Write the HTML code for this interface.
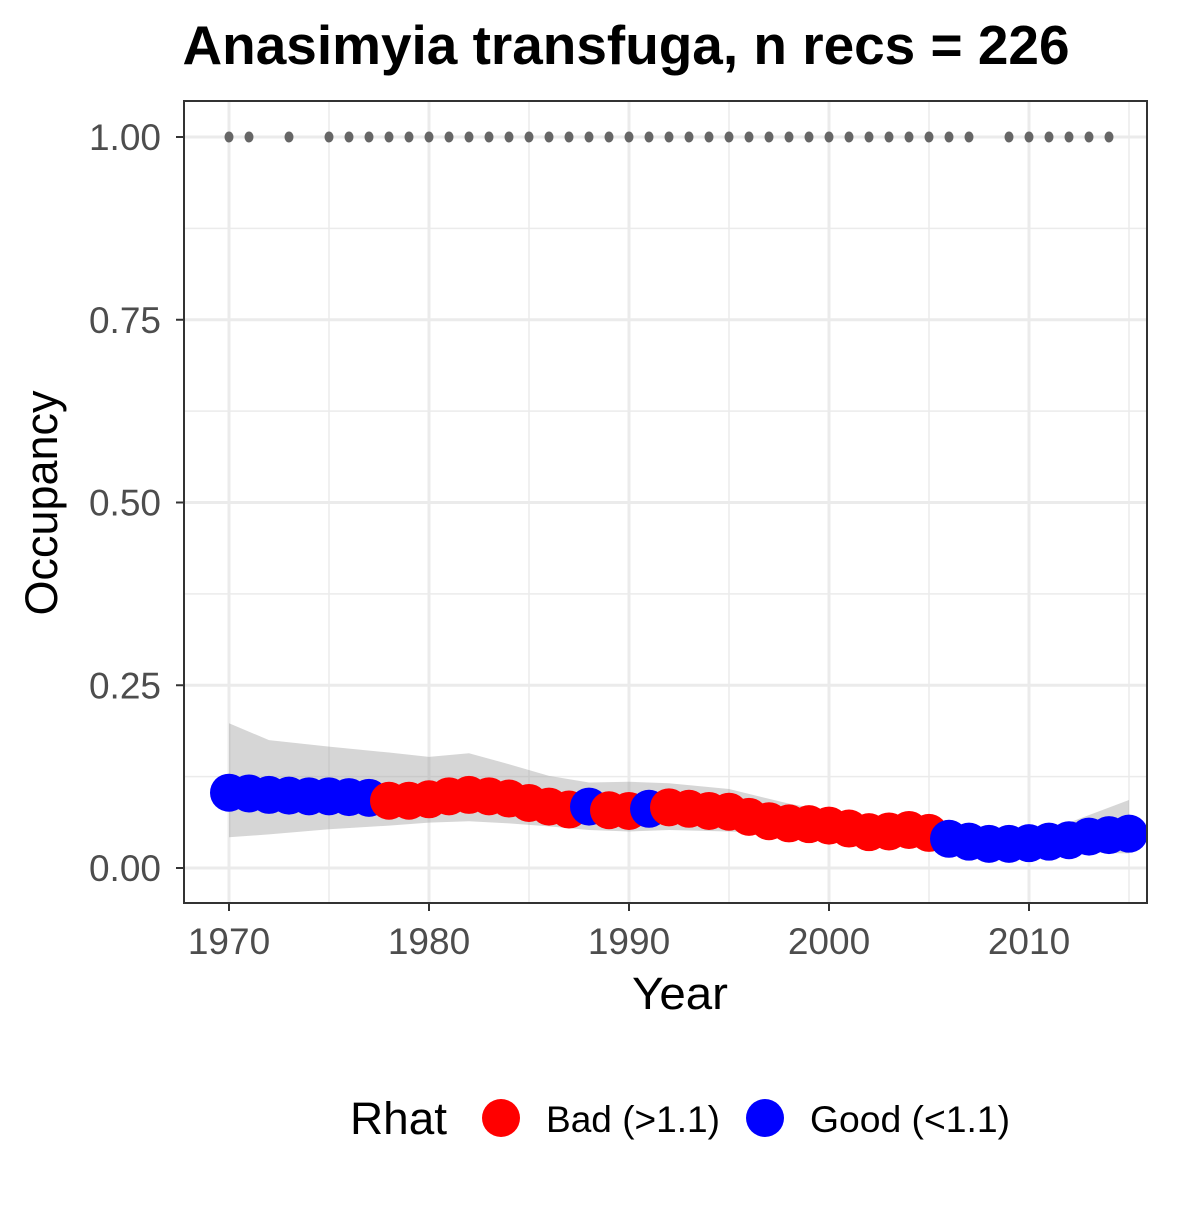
<!DOCTYPE html>
<html><head><meta charset="utf-8"><style>
body{margin:0;background:#fff;}
svg text{font-family:"Liberation Sans",Arial,sans-serif;}
</style></head><body>
<svg id="chart" width="1200" height="1200" xmlns="http://www.w3.org/2000/svg">
<rect width="1200" height="1200" fill="#fff"/>
<text x="626" y="64" text-anchor="middle" font-size="55" font-weight="bold" fill="#000" textLength="887" lengthAdjust="spacingAndGlyphs">Anasimyia transfuga, n recs = 226</text>
<g id="grid"></g>
<g id="ribbon"></g>
<g id="recs"></g>
<g id="pts"></g>
<rect x="184" y="101" width="963" height="802" fill="none" stroke="#333" stroke-width="2"/>
<g id="axes"></g>
<text x="680" y="1009" text-anchor="middle" font-size="45" fill="#000" textLength="96" lengthAdjust="spacingAndGlyphs">Year</text>
<text transform="translate(57,503) rotate(-90)" text-anchor="middle" font-size="45" fill="#000" textLength="225" lengthAdjust="spacingAndGlyphs">Occupancy</text>
<g>
<text x="350" y="1134" font-size="45" fill="#000" textLength="97" lengthAdjust="spacingAndGlyphs">Rhat</text>
<circle cx="501" cy="1118" r="19" fill="#ff0000"/>
<text x="546" y="1132" font-size="37" fill="#000" textLength="174" lengthAdjust="spacingAndGlyphs">Bad (&gt;1.1)</text>
<circle cx="765" cy="1118" r="19" fill="#0000ff"/>
<text x="810" y="1132" font-size="37" fill="#000" textLength="200" lengthAdjust="spacingAndGlyphs">Good (&lt;1.1)</text>
</g>
</svg>
<script>
const years = [1970,1971,1972,1973,1974,1975,1976,1977,1978,1979,1980,1981,1982,1983,1984,1985,1986,1987,1988,1989,1990,1991,1992,1993,1994,1995,1996,1997,1998,1999,2000,2001,2002,2003,2004,2005,2006,2007,2008,2009,2010,2011,2012,2013,2014,2015];
const occupancy = [0.103,0.102,0.100,0.099,0.098,0.098,0.097,0.096,0.092,0.092,0.094,0.098,0.100,0.098,0.095,0.089,0.084,0.080,0.084,0.079,0.078,0.081,0.083,0.081,0.078,0.077,0.070,0.064,0.061,0.060,0.058,0.054,0.049,0.050,0.052,0.048,0.040,0.036,0.033,0.033,0.034,0.036,0.038,0.043,0.045,0.047];
const rhatGood = [1,1,1,1,1,1,1,1,0,0,0,0,0,0,0,0,0,0,1,0,0,1,0,0,0,0,0,0,0,0,0,0,0,0,0,0,1,1,1,1,1,1,1,1,1,1];
const ribbonYears = [1970,1972,1975,1978,1980,1982,1984,1986,1988,1990,1992,1995,1998,2000,2003,2005,2008,2010,2012,2015];
const ribbonUpper = [0.198,0.175,0.166,0.158,0.152,0.157,0.142,0.126,0.117,0.118,0.116,0.108,0.088,0.078,0.068,0.060,0.052,0.052,0.062,0.093];
const ribbonLower = [0.042,0.046,0.053,0.058,0.062,0.064,0.061,0.057,0.052,0.050,0.052,0.050,0.046,0.044,0.038,0.032,0.025,0.022,0.021,0.020];
const recordYears = [1970,1971,1973,1975,1976,1977,1978,1979,1980,1981,1982,1983,1984,1985,1986,1987,1988,1989,1990,1991,1992,1993,1994,1995,1996,1997,1998,1999,2000,2001,2002,2003,2004,2005,2006,2007,2009,2010,2011,2012,2013,2014];
const xTicks = [1970,1980,1990,2000,2010];
const yTicks = [0,0.25,0.5,0.75,1.0];
const yTickLabels = ["0.00","0.25","0.50","0.75","1.00"];

const NS="http://www.w3.org/2000/svg";
const X = y => 229 + (y-1970)*20;
const Y = v => 868 - v*731;
function mk(tag, attrs, parent){const e=document.createElementNS(NS,tag);for(const k in attrs)e.setAttribute(k,attrs[k]);document.getElementById(parent).appendChild(e);return e;}

[1975,1985,1995,2005,2015].forEach(t=>{const l=mk('line',{x1:X(t),x2:X(t),y1:101,y2:903,stroke:'#ebebeb','stroke-width':1.5},'grid');

});
[0.125,0.375,0.625,0.875].forEach(t=>{const l=mk('line',{x1:184,x2:1147,y1:Y(t),y2:Y(t),stroke:'#ebebeb','stroke-width':1.5},'grid');

});
xTicks.forEach(t=>{const l=mk('line',{x1:X(t),x2:X(t),y1:101,y2:903,stroke:'#ebebeb','stroke-width':3},'grid');

});
yTicks.forEach(t=>{const l=mk('line',{x1:184,x2:1147,y1:Y(t),y2:Y(t),stroke:'#ebebeb','stroke-width':3},'grid');

});

let d='M'+ribbonYears.map((y,i)=>X(y)+','+Y(ribbonUpper[i])).join(' L');
for(let i=ribbonYears.length-1;i>=0;i--) d+=' L'+X(ribbonYears[i])+','+Y(ribbonLower[i]);
const rb=mk('path',{d:d+'Z',fill:'#999','fill-opacity':0.4},'ribbon');



recordYears.forEach(y=>{const c=mk('ellipse',{cx:X(y),cy:Y(1),rx:4.5,ry:5.5,fill:'#666'},'recs');

});

years.forEach((y,i)=>{const c=mk('circle',{cx:X(y),cy:Y(occupancy[i]),r:19,fill:rhatGood[i]?'#0000ff':'#ff0000'},'pts');

});

xTicks.forEach(t=>{mk('line',{x1:X(t),x2:X(t),y1:903,y2:911,stroke:'#333','stroke-width':2},'axes');
const tx=mk('text',{x:X(t),y:954,'text-anchor':'middle','font-size':37,fill:'#4d4d4d'},'axes');tx.textContent=t;

});
yTicks.forEach((t,i)=>{mk('line',{x1:176,x2:184,y1:Y(t),y2:Y(t),stroke:'#333','stroke-width':2},'axes');
const tx=mk('text',{x:161,y:Y(t)+13,'text-anchor':'end','font-size':37,fill:'#4d4d4d'},'axes');tx.textContent=yTickLabels[i];

});
</script>
</body></html>
